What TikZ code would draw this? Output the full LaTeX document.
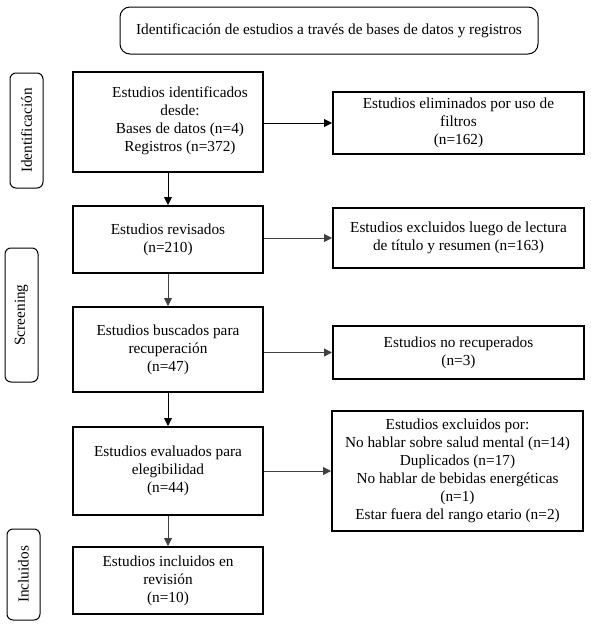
\documentclass[tikz,border=0pt]{standalone}
\usepackage{fontspec}
\setmainfont{Liberation Serif}
\usetikzlibrary{arrows.meta}
\begin{document}
\begin{tikzpicture}[x=1pt,y=-1pt,
  every node/.style={font=\fontsize{15.3}{18}\selectfont, align=center, inner sep=0pt},
  lbox/.style={draw=black, line width=2pt, minimum width=190pt},
  rbox/.style={draw=black, line width=2pt, minimum width=251pt},
  side/.style={draw=black, line width=1pt, rounded corners=6pt, minimum width=33pt},
  titlebox/.style={draw=black, line width=1pt, rounded corners=10pt, minimum width=418pt, minimum height=47pt},
  arr/.style={line width=1pt, draw=black!75, -{Triangle[length=8pt,width=8pt]}}
]
\useasboundingbox (0,0) rectangle (591,627);

\node[titlebox] (title) at (329,30.5) {Identificación de estudios a través de bases de datos y registros};

\node[side, minimum height=115pt] (sid) at (26.5,130.5) {};
\node[rotate=90] (sidt) at (sid.center) {Identificación};
\node[side, minimum height=134pt] (sscr) at (21.5,315) {};
\node[rotate=90] (sscrt) at (sscr.center) {Screening};
\node[side, minimum height=91pt] (sinc) at (23.5,574.5) {};
\node[rotate=90] (sinct) at (sinc.center) {Incluidos};

\node[lbox, minimum height=100pt] (b1) at (168,122) {};
\node (b1t) at (180,121) {Estudios identificados\\desde:\\Bases de datos (n=4)\\Registros (n=372)};
\node[lbox, minimum height=67pt] (b2) at (168,239.5) {Estudios revisados\\(n=210)};
\node[lbox, minimum height=85pt] (b3) at (168,349.5) {Estudios buscados para\\recuperación\\(n=47)};
\node[lbox, minimum height=88pt] (b4) at (168,471) {Estudios evaluados para\\elegibilidad\\(n=44)};
\node[lbox, minimum height=67pt] (b5) at (168,580.5) {Estudios incluidos en\\revisión\\(n=10)};

\node[rbox, minimum height=62pt] (r1) at (458.5,123) {Estudios eliminados por uso de\\filtros\\(n=162)};
\node[rbox, minimum height=60pt] (r2) at (458.5,238) {Estudios excluidos luego de lectura\\de título y resumen (n=163)};
\node[rbox, minimum height=53pt] (r3) at (458.5,352.5) {Estudios no recuperados\\(n=3)};
\node[rbox, minimum height=120pt] (r4) at (457.5,471) {Estudios excluidos por:\\No hablar sobre salud mental (n=14)\\Duplicados (n=17)\\No hablar de bebidas energéticas\\(n=1)\\Estar fuera del rango etario (n=2)};

\draw[arr, draw=black] (b1.south) -- (b2.north);
\draw[arr] (b2.south) -- (b3.north);
\draw[arr, draw=black] (b3.south) -- (b4.north);
\draw[arr] (b4.south) -- (b5.north);

\draw[arr, draw=black] (b1.east |- r1.west) -- (r1.west);
\draw[arr] (b2.east |- r2.west) -- (r2.west);
\draw[arr] (b3.east |- r3.west) -- (r3.west);
\draw[arr] (b4.east |- r4.west) -- (r4.west);
\end{tikzpicture}
\end{document}
